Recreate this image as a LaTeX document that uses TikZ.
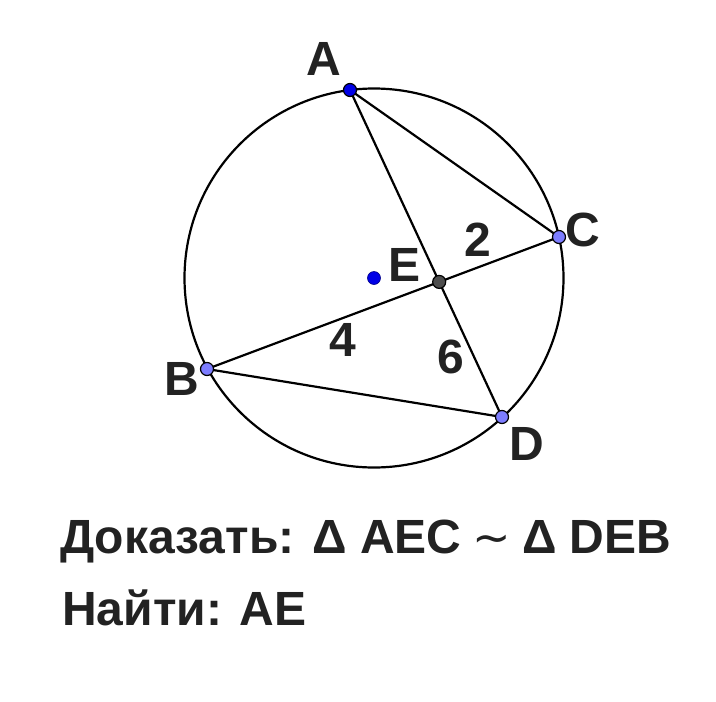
\documentclass[tikz,border=0pt]{standalone}
\usepackage{fontspec}
\setmainfont{Liberation Sans}
\newfontfamily\djfont{DejaVu Sans}
\definecolor{txt}{HTML}{222222}
\definecolor{ptdark}{HTML}{0000E6}
\definecolor{ptlight}{HTML}{7D7DFF}
\definecolor{ptgray}{HTML}{4D4D4D}
\tikzset{
  pt/.style={circle,draw=black,line width=1.2pt,inner sep=0pt,minimum size=13pt},
  ptA/.style={pt,fill=ptdark},
  ptB/.style={pt,fill=ptlight},
  ptM/.style={pt,fill=ptgray},
  lbl/.style={font=\fontsize{48}{48}\selectfont\bfseries,text=txt,anchor=base,inner sep=0pt},
  seg/.style={line width=2.2pt,black},
  big/.style={font=\fontsize{48}{58}\selectfont\bfseries,text=txt,anchor=base west,inner sep=0pt}
}
\begin{document}
\begin{tikzpicture}[x=1pt,y=-1pt]
\useasboundingbox (0,0) rectangle (716,702);
% circle
\draw[seg] (374,278) circle (189.5);
% points
\coordinate (A) at (350,90);
\coordinate (C) at (559,237);
\coordinate (B) at (207,369);
\coordinate (D) at (502,417);
\coordinate (M) at (439.2,281.9);
\draw[seg] (A) -- (D);
\draw[seg] (B) -- (C);
\draw[seg] (A) -- (C);
\draw[seg] (B) -- (D);
\node[ptA] (pA) at (A) {};
\node[ptB] (pC) at (C) {};
\node[ptB] (pB) at (B) {};
\node[ptB] (pD) at (D) {};
\node[ptM] (pM) at (M) {};
\node[pt,fill=ptdark,draw=ptdark!60!black,line width=0.6pt] (pE) at (374,278) {};
% labels
\node[lbl] (lA) at (324,75) {A};
\node[lbl] (lC) at (583,246) {C};
\node[lbl] (lB) at (182,395) {B};
\node[lbl] (lD) at (527,460) {D};
\node[lbl] (lE) at (405,281.5) {E};
\node[lbl] (l2) at (478,256) {2};
\node[lbl] (l4) at (343,356) {4};
\node[lbl] (l6) at (450.5,373) {6};
% text
\node[big] (t1) at (60,553) {Доказать: Δ AEC\hspace{11pt}{\djfont\mdseries\fontsize{46}{46}\selectfont ∼}\hspace{11pt}Δ DEB};
\node[big] (t2) at (62,625) {Найти: AE};
\end{tikzpicture}
\end{document}
